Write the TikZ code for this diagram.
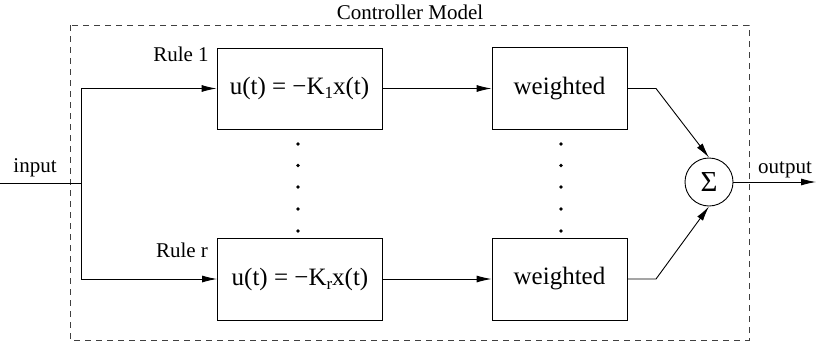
\documentclass[tikz,border=0pt]{standalone}
\usepackage{fontspec}
\setmainfont{Liberation Serif}
\usetikzlibrary{arrows.meta}
\tikzset{
  lbl/.style={font=\fontsize{21}{24}\selectfont, inner sep=0pt},
  blk/.style={draw, line width=0.9pt, minimum width=#1, font=\fontsize{25}{28}\selectfont, inner sep=0pt},
  blk/.default=165pt,
  conn/.style={line width=0.9pt},
  arr/.style={conn, -{Latex[length=15pt,width=7pt]}},
  frame/.style={draw=black!75, line width=1pt, dash pattern=on 6pt off 5pt},
  dotmark/.style={circle, fill, inner sep=0pt, minimum size=3.6pt}
}
\newcommand{\subtxt}[1]{\raisebox{-0.35ex}{\fontsize{17}{19}\selectfont #1}}
\begin{document}
\begin{tikzpicture}[x=1pt,y=-1pt]
\useasboundingbox (0,0) rectangle (816,343);
% frame
\draw[frame] (70,25) rectangle (749,340);
\node[lbl] (title) at (410,12) {Controller Model};
% rule blocks
\node[blk=165pt, minimum height=81pt] (r1) at (299.5,88.5) {u(t) = −K\subtxt{1}x(t)};
\node[blk=165pt, minimum height=82pt] (rr) at (300,279) {u(t) = −K\subtxt{r}x(t)};
\node[blk=135pt, minimum height=82pt] (w1) at (559.5,88.5) {weighted};
\node[blk=135pt, minimum height=82pt] (wr) at (559.5,279) {weighted};
\node[draw, circle, line width=0.9pt, minimum size=48pt, inner sep=0pt, font=\fontsize{29}{30}\selectfont] (sum) at (709,182) {Σ};
% labels
\node[lbl] (rl1) at (181,54) {Rule 1};
\node[lbl] (rlr) at (182,250) {Rule r};
\node[lbl] (inlbl) at (35,168) {input};
\node[lbl] (outlbl) at (785,170) {output};
% coordinates
\coordinate (in) at (0,183);
\coordinate (split) at (81,183);
\coordinate (out) at (816,182);
\coordinate (k1) at (656,88.5);
\coordinate (kr) at (656,279);
% connectors
\draw[conn] (in) -- (split);
\draw[arr] (split) |- (r1.west);
\draw[arr] (split) |- (rr.west);
\draw[arr] (r1.east) -- (w1.west);
\draw[arr] (rr.east) -- (wr.west);
\draw[arr] (w1.east) -- (k1) -- (sum.north);
\draw[arr] (wr.east) -- (kr) -- (sum.south);
\draw[arr] (sum.east) -- (out);
% dots
\foreach \y [count=\i] in {144,165.5,187,209,231}{
  \node[dotmark] (da\i) at (298,\y) {};
  \node[dotmark] (db\i) at (561,\y) {};
}
\end{tikzpicture}
\end{document}
